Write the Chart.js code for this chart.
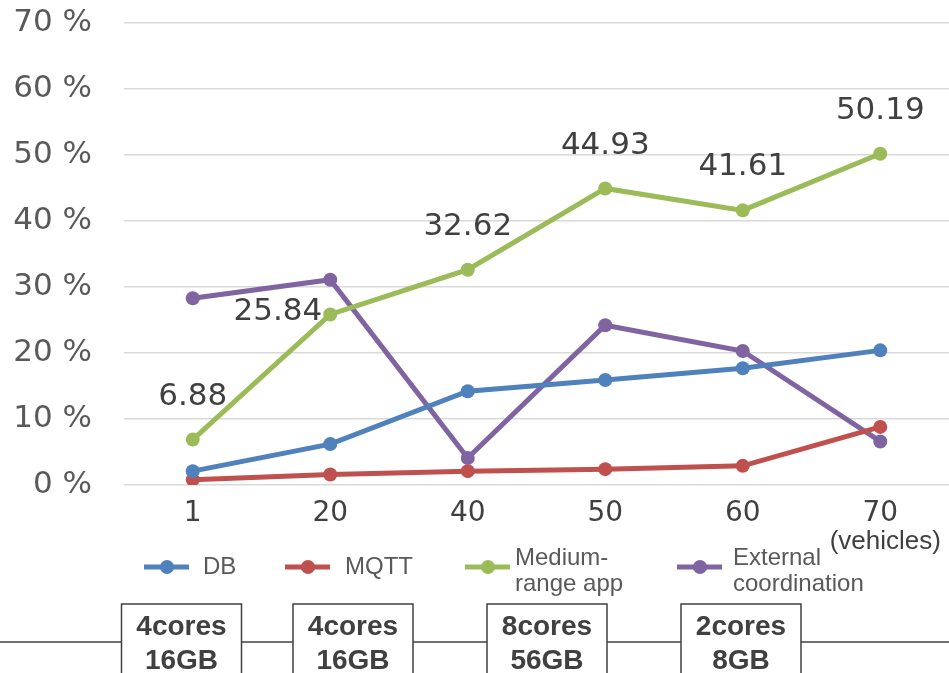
<!DOCTYPE html>
<html>
<head>
<meta charset="utf-8">
<script src="https://cdn.jsdelivr.net/npm/chart.js@4"></script>
<style>
  body { margin: 0; background: #fff; }
  #wrap { width: 949px; height: 673px; position: relative; }
</style>
</head>
<body>
<div id="wrap"><canvas id="loadChart"></canvas></div>
<script>
// number of vehicles on the x axis
var vehicles = ['1', '20', '40', '50', '60', '70'];
// CPU load per server (%)
var dbLoad       = [2.1, 6.2, 14.2, 15.9, 17.7, 20.4];
var mqttLoad     = [0.8, 1.6, 2.1, 2.4, 2.9, 8.8];
var mediumLoad   = [6.88, 25.84, 32.62, 44.93, 41.61, 50.19];
var externalLoad = [28.3, 31.1, 4.1, 24.2, 20.3, 6.6];
var seriesNames  = ['DB', 'MQTT', ['Medium-', 'range app'], ['External', 'coordination']];
var serverSpecs  = [['4cores', '16GB'], ['4cores', '16GB'], ['8cores', '56GB'], ['2cores', '8GB']];
var yMax = 70;
var yStep = 10;

// draws the value labels, legend, unit text and the server boxes
var extrasPlugin = {
  id: 'extras',
  afterDatasetsDraw: function(chart){
    var ctx = chart.ctx;
    // value labels for the medium-range app series
    var meta = chart.getDatasetMeta(2);
    ctx.save();
    ctx.font = '31px "DejaVu Sans"';
    ctx.fillStyle = '#404040';
    ctx.textBaseline = 'middle';
    meta.data.forEach(function(pt, i){
      var txt = mediumLoad[i].toFixed(2);
      if(i == 1){
        ctx.textAlign = 'right';
        ctx.fillText(txt, pt.x - 8, pt.y - 3);
      }
      else{
        ctx.textAlign = 'center';
        ctx.fillText(txt, pt.x, pt.y - 43);
      }
    });
    ctx.restore();
  },
  afterDraw: function(chart){
    var ctx = chart.ctx;
    var xs = chart.scales.x;
    ctx.save();

    // unit under the last tick
    ctx.font = '26px "Liberation Sans"';
    ctx.fillStyle = '#404040';
    ctx.textAlign = 'center';
    ctx.textBaseline = 'middle';
    ctx.fillText('(vehicles)', Math.min(xs.getPixelForValue(vehicles.length - 1) + 5, 889), 542);

    // legend
    var legendX = [144, 285, 465, 677];
    var legendTextX = [203, 345, 515, 733];
    var legendY = 567;
    chart.data.datasets.forEach(function(ds, i){
      var x0 = legendX[i];
      ctx.strokeStyle = ds.borderColor;
      ctx.lineWidth = 5;
      ctx.lineCap = 'butt';
      ctx.beginPath();
      ctx.moveTo(x0, legendY);
      ctx.lineTo(x0 + 45, legendY);
      ctx.stroke();
      ctx.fillStyle = ds.backgroundColor;
      ctx.beginPath();
      ctx.arc(x0 + 23, legendY, 7, 0, Math.PI * 2);
      ctx.fill();
      ctx.fillStyle = '#595959';
      ctx.font = '24px "Liberation Sans"';
      ctx.textAlign = 'left';
      var lines = Array.isArray(ds.label) ? ds.label : [ds.label];
      var startY = lines.length > 1 ? legendY - 9 : legendY;
      lines.forEach(function(t, j){
        ctx.fillText(t, legendTextX[i], startY + j * 26);
      });
    });

    // server boxes on a line
    ctx.strokeStyle = '#404040';
    ctx.lineWidth = 1.5;
    ctx.beginPath();
    ctx.moveTo(0, 642);
    ctx.lineTo(chart.width, 642);
    ctx.stroke();
    var boxCenters = [181.5, 353, 547, 741];
    serverSpecs.forEach(function(spec, i){
      var cx = boxCenters[i];
      var w = 120;
      ctx.fillStyle = '#ffffff';
      ctx.fillRect(cx - w / 2, 604, w, 80);
      ctx.strokeRect(cx - w / 2, 604, w, 80);
      ctx.fillStyle = '#404040';
      ctx.font = 'bold 28px "Liberation Sans"';
      ctx.textAlign = 'center';
      ctx.fillText(spec[0], cx, 627);
      ctx.fillText(spec[1], cx, 661);
    });
    ctx.restore();
  }
};

function makeSet(name, values, color){
  return {
    label: name,
    data: values,
    borderColor: color,
    backgroundColor: color,
    borderWidth: 5,
    pointRadius: 7,
    pointHoverRadius: 8,
    pointBorderWidth: 0,
    tension: 0
  };
}

var ctx = document.getElementById('loadChart').getContext('2d');
var myChart = new Chart(ctx, {
  type: 'line',
  plugins: [extrasPlugin],
  data: {
    labels: vehicles,
    datasets: [
      makeSet(seriesNames[0], dbLoad, '#4f81bd'),
      makeSet(seriesNames[1], mqttLoad, '#c0504d'),
      makeSet(seriesNames[2], mediumLoad, '#9bbb59'),
      makeSet(seriesNames[3], externalLoad, '#8064a2')
    ]
  },
  options: {
    responsive: true,
    maintainAspectRatio: false,
    animation: false,
    layout: {
      autoPadding: false,
      padding: { top: 23, right: -5, left: 0, bottom: 0 }
    },
    scales: {
      x: {
        offset: true,
        grid: { display: false, drawTicks: false },
        border: { display: false },
        ticks: {
          padding: 12,
          color: '#404040',
          font: { family: 'DejaVu Sans', size: 28 }
        },
        afterFit: function(scale){
          scale.height = 188;
          scale.paddingLeft = 0;
          scale.paddingRight = 0;
        }
      },
      y: {
        min: 0,
        max: yMax,
        grid: { color: '#d9d9d9', lineWidth: 1.5, drawTicks: false },
        border: { display: false },
        ticks: {
          stepSize: yStep,
          padding: 32,
          color: '#595959',
          font: { family: 'DejaVu Sans', size: 31 },
          callback: function(value){ return value + ' %'; }
        },
        afterFit: function(scale){
          scale.width = 124;
          scale.paddingTop = 0;
          scale.paddingBottom = 0;
        }
      }
    },
    plugins: {
      legend: { display: false },
      title: { display: false },
      tooltip: { enabled: true }
    }
  }
});
</script>
</body>
</html>
